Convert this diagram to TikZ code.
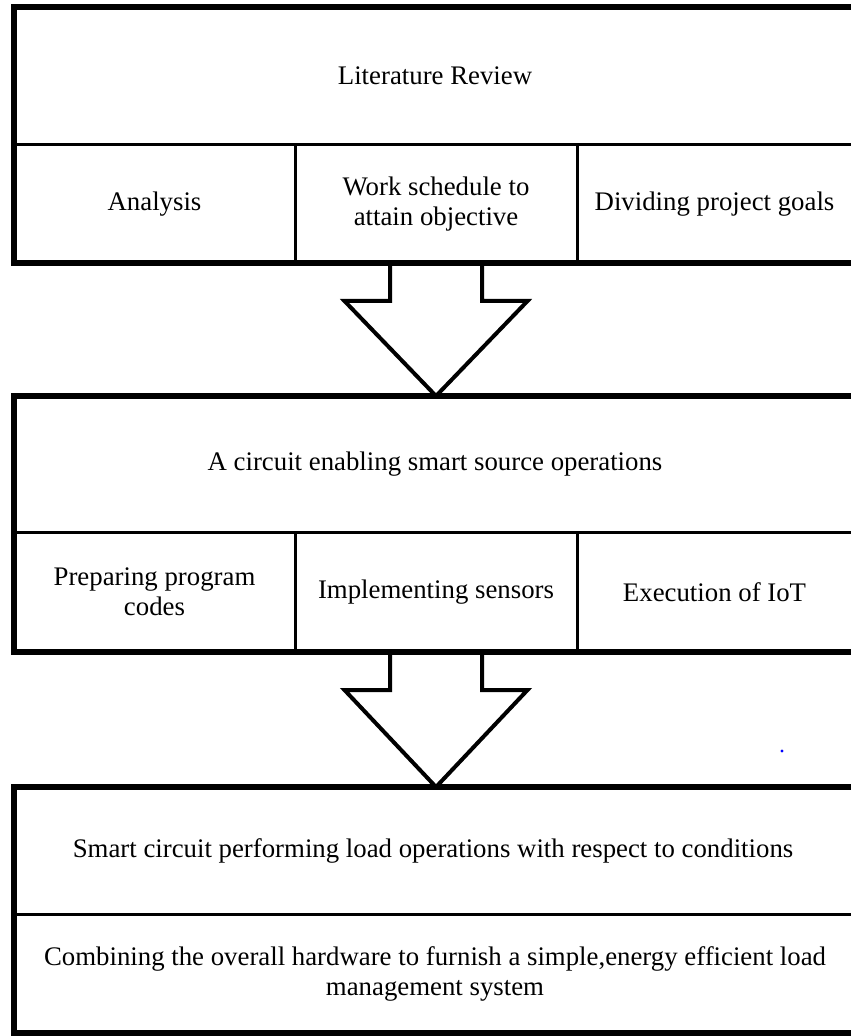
\documentclass[tikz,border=0pt]{standalone}
\usepackage{fontspec}
\setmainfont{Liberation Serif}
\usetikzlibrary{positioning,calc}

\newcommand{\blockdown}[2]{%
  \draw[blockarr] ($(#1.south)+(-23pt,0pt)$) -- ++(0pt,-19pt) -- ++(-22.75pt,0pt)
    -- (#1.south |- #2.north) -- ($(#1.south)+(45.75pt,-19pt)$) -- ++(-22.75pt,0pt) -- ++(0pt,19pt);}

\begin{document}
\begin{tikzpicture}[font=\fontsize{13.4pt}{15pt}\selectfont]

	\tikzstyle{cell}=[draw, rectangle, line width=1.5pt, inner sep=0pt, outer sep=0pt, align=center, minimum width=140.5pt, minimum height=59pt];
	\tikzstyle{wide}=[cell, minimum width=421pt];
	\tikzstyle{outer}=[line width=2.6pt];
	\tikzstyle{blockarr}=[line width=2pt];

    \useasboundingbox (0,0) rectangle (425pt,-518pt);

    % first block
	\node (lit_review) at (7pt,-3.5pt) [anchor=north west, wide, minimum height=69pt]{Literature Review};
	\node (analysis) [below right=0pt and 0pt of lit_review.south west, cell]{Analysis};
	\node (work_sched) [right=0pt of analysis, cell, minimum width=141pt]{Work schedule to\\attain objective};
	\node (proj_goals) [right=0pt of work_sched, cell, minimum width=139.5pt]{\hspace*{-2pt}Dividing project goals};
	\draw[outer] (lit_review.north west) rectangle (proj_goals.south east);

    % second block
	\node (circuit) [below right=66.5pt and 0pt of analysis.south west, wide, minimum height=68pt]{A circuit enabling smart source operations};
	\node (prog_codes) [below right=0pt and 0pt of circuit.south west, cell, minimum height=60pt]{Preparing program\\codes};
	\node (sensors) [right=0pt of prog_codes, cell, minimum width=141pt, minimum height=60pt]{Implementing sensors};
	\node (iot) [right=0pt of sensors, cell, minimum width=139.5pt, minimum height=60pt]{\hspace*{-2pt}Execution of IoT};
	\draw[outer] (circuit.north west) rectangle (iot.south east);

    % third block
	\node (smart_load) [below right=67.5pt and 0pt of prog_codes.south west, wide, minimum height=63.5pt]{\hspace*{-2pt}Smart circuit performing load operations with respect to conditions};
	\node (hardware) [below=0pt of smart_load, wide, minimum height=59.5pt]{Combining the overall hardware to furnish a simple,energy efficient load\\management system};
	\draw[outer] (smart_load.north west) rectangle (hardware.south east);

    % arrows
	\blockdown{work_sched}{circuit}
	\blockdown{sensors}{smart_load}

	\fill[blue] (391pt,-375.5pt) circle (0.8pt);

    \end{tikzpicture}
\end{document}
